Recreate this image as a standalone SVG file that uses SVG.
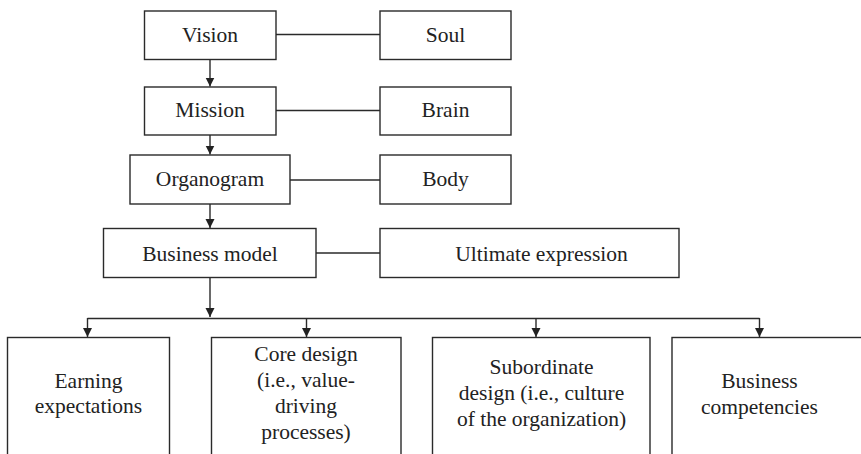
<svg xmlns="http://www.w3.org/2000/svg" width="861" height="454" viewBox="0 0 861 454" font-family="'Liberation Serif', 'DejaVu Serif', serif">
  <style>
    .box { fill: #ffffff; stroke: #2a2a2a; stroke-width: 1.4; }
    text { font-family: 'Liberation Serif', 'DejaVu Serif', serif; font-size: 21.5px; fill: #222222; text-anchor: middle; }
    .wire { fill: none; stroke: #2a2a2a; stroke-width: 1.4; }
  </style>
  <defs>
    <marker id="arrow" markerUnits="userSpaceOnUse" markerWidth="10" markerHeight="10" refX="9" refY="5" orient="auto" viewBox="0 0 10 10">
      <path d="M0,0.5 L9,5 L0,9.5 z" fill="#222222"/>
    </marker>
  </defs>
  <rect width="861" height="454" fill="#ffffff"/>

  <!-- connectors -->
  <g id="connectors">
    <line class="wire" x1="210" y1="59" x2="210" y2="86.5" marker-end="url(#arrow)"/>
    <line class="wire" x1="210" y1="135" x2="210" y2="154.5" marker-end="url(#arrow)"/>
    <line class="wire" x1="210" y1="204" x2="210" y2="228" marker-end="url(#arrow)"/>
    <line class="wire" x1="210" y1="277" x2="210" y2="317" marker-end="url(#arrow)"/>
    <line class="wire" x1="87.5" y1="318.5" x2="759.5" y2="318.5"/>
    <line class="wire" x1="87.5" y1="318" x2="87.5" y2="337" marker-end="url(#arrow)"/>
    <line class="wire" x1="306.5" y1="318" x2="306.5" y2="337" marker-end="url(#arrow)"/>
    <line class="wire" x1="536" y1="318" x2="536" y2="337" marker-end="url(#arrow)"/>
    <line class="wire" x1="759.5" y1="318" x2="759.5" y2="337" marker-end="url(#arrow)"/>
    <line class="wire" x1="276" y1="34.5" x2="380" y2="34.5"/>
    <line class="wire" x1="276" y1="110.5" x2="380" y2="110.5"/>
    <line class="wire" x1="290" y1="180" x2="380" y2="180"/>
    <line class="wire" x1="316" y1="253" x2="380" y2="253"/>
  </g>

  <g id="vision">
    <rect class="box" x="144.5" y="11" width="131.5" height="48.5"/>
    <text x="210" y="42">Vision</text>
  </g>
  <g id="soul">
    <rect class="box" x="380" y="11" width="131" height="48.5"/>
    <text x="445.5" y="42">Soul</text>
  </g>
  <g id="mission">
    <rect class="box" x="144.5" y="87" width="131.5" height="48"/>
    <text x="210" y="117">Mission</text>
  </g>
  <g id="brain">
    <rect class="box" x="380" y="87" width="131" height="48"/>
    <text x="445.5" y="117">Brain</text>
  </g>
  <g id="organogram">
    <rect class="box" x="130" y="155" width="160" height="49"/>
    <text x="210" y="186">Organogram</text>
  </g>
  <g id="body">
    <rect class="box" x="380" y="155" width="131" height="49"/>
    <text x="445.5" y="186">Body</text>
  </g>
  <g id="business-model">
    <rect class="box" x="103.5" y="228.5" width="212.5" height="49"/>
    <text x="210" y="261">Business model</text>
  </g>
  <g id="ultimate-expression">
    <rect class="box" x="380" y="228.5" width="299" height="49"/>
    <text x="541.5" y="261">Ultimate expression</text>
  </g>

  <g id="earning-expectations">
    <rect class="box" x="7.5" y="337.5" width="162" height="140"/>
    <text x="88.5" y="388">Earning</text>
    <text x="88.5" y="413">expectations</text>
  </g>
  <g id="core-design">
    <rect class="box" x="211.5" y="337.5" width="189.5" height="140"/>
    <text x="306" y="361">Core design</text>
    <text x="306" y="387">(i.e., value-</text>
    <text x="306" y="413">driving</text>
    <text x="306" y="438.5">processes)</text>
  </g>
  <g id="subordinate-design">
    <rect class="box" x="432.5" y="337.5" width="217.5" height="140"/>
    <text x="541.5" y="374">Subordinate</text>
    <text x="541.5" y="400">design (i.e., culture</text>
    <text x="541.5" y="426">of the organization)</text>
  </g>
  <g id="business-competencies">
    <rect class="box" x="672" y="337.5" width="200" height="140"/>
    <text x="759.5" y="388">Business</text>
    <text x="759.5" y="413.5">competencies</text>
  </g>
</svg>
